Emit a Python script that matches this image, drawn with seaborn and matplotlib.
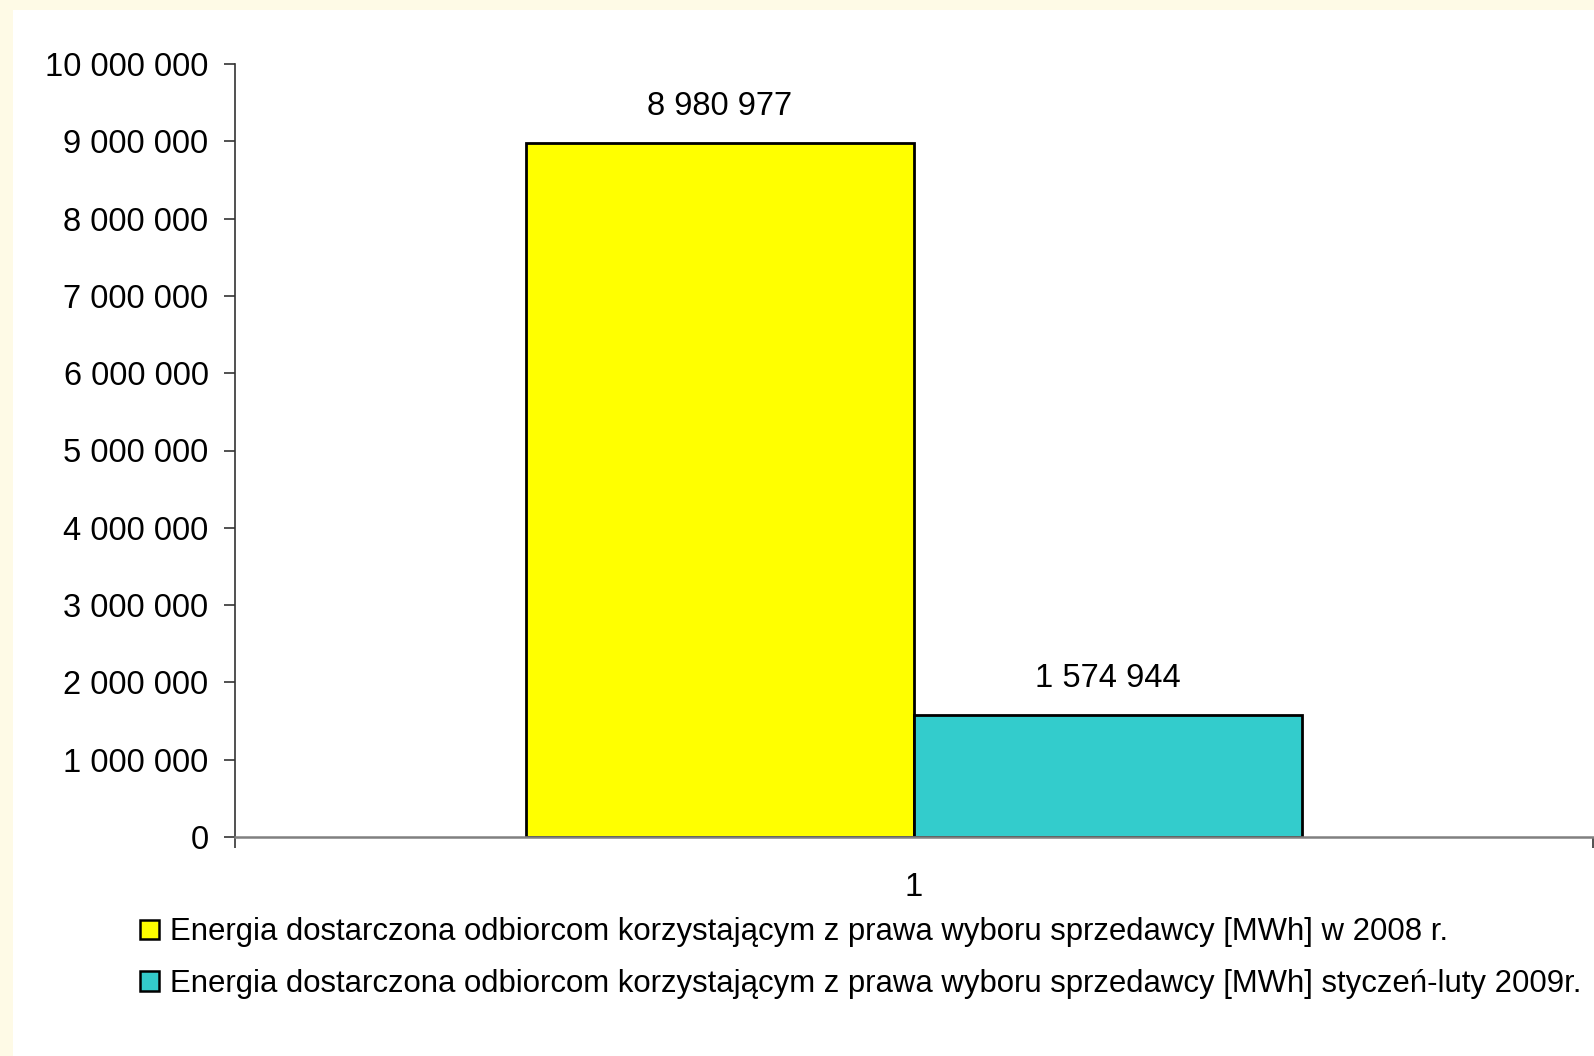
"""   Energia dostarczona odbiorcom TPA - wykres slupkowy   """

import matplotlib
matplotlib.use('Agg')
import matplotlib.pyplot as plt
from matplotlib.patches import Rectangle
from matplotlib.ticker import FuncFormatter
import pandas as pd
import seaborn as sns

# ~~~~~~~~~~   Data   ~~~~~~~~~~~~~~~~~~~~~~~~~~~~~~~~~~~~~~~~~~~~~~~~~~~~~~~~~~~~~~~ #
categories = ['1', '1']
series = ['Energia dostarczona odbiorcom korzystającym z prawa wyboru sprzedawcy [MWh] w 2008 r.',
          'Energia dostarczona odbiorcom korzystającym z prawa wyboru sprzedawcy [MWh] styczeń-luty 2009r.']
values = [8980977, 1574944]
colors = ['#FFFF00', '#33CCCC']

df = pd.DataFrame({'kategoria': categories, 'seria': series, 'wartosc': values})


def spaced(v):
    # thousands separated with spaces, polish style
    return f'{int(round(v)):,}'.replace(',', ' ')


# ~~~~~~~~~~   Plot   ~~~~~~~~~~~~~~~~~~~~~~~~~~~~~~~~~~~~~~~~~~~~~~~~~~~~~~~~~~~~~~~ #
sns.set_style('white')
plt.rcParams['font.family'] = ['Liberation Sans', 'DejaVu Sans']
plt.rcParams['text.color'] = 'black'
plt.rcParams['xtick.color'] = 'black'
plt.rcParams['ytick.color'] = 'black'

fig = plt.figure(figsize=(15.94, 10.56), dpi=100, facecolor='#FEFAE6')
# white panel inside the cream frame
fig.patches.append(Rectangle((13 / 1594, 0), 1, 1 - 10 / 1056, transform=fig.transFigure,
                             facecolor='white', edgecolor='none', zorder=-5))
ax = fig.add_axes([235 / 1594, 1 - 837 / 1056, 1358 / 1594, 773 / 1056])
ax.set_facecolor('white')

sns.barplot(data=df, x='kategoria', y='wartosc', hue='seria', palette=colors,
            width=0.572, gap=0, edgecolor='black', linewidth=2, saturation=1,
            legend=True, ax=ax)

ax.set_xlim(-0.5, 0.5)
ax.set_ylim(0, 10000000)
ax.set_yticks(range(0, 10000001, 1000000))
ax.yaxis.set_major_formatter(FuncFormatter(lambda v, p: spaced(v)))
ax.set_xlabel('')
ax.set_ylabel('')

# value labels above each bar
for cont in ax.containers:
    ax.bar_label(cont, labels=[spaced(v) for v in cont.datavalues], padding=15, fontsize=23.5,
                 color='black')

# axes and ticks like the spreadsheet original
for side in ['top', 'right']:
    ax.spines[side].set_visible(False)
ax.spines['left'].set_color('#333333')
ax.spines['bottom'].set_color('#808080')
ax.spines['left'].set_linewidth(1.2)
ax.spines['bottom'].set_linewidth(1.8)
ax.tick_params(axis='y', direction='out', length=8, width=1.2, color='#333333',
               labelsize=23.5, labelcolor='black', pad=11, left=True)
ax.tick_params(axis='x', which='major', length=0, labelsize=23.5, labelcolor='black', pad=25)
ax.set_xticks([-0.5, 0.5], minor=True)
ax.tick_params(axis='x', which='minor', direction='out', length=8, width=1.2,
               color='#333333', bottom=True)

# legend below the plot, no frame
handles, labels = ax.get_legend_handles_labels()
ax.legend_.remove()
leg = fig.legend(handles, labels, loc='upper left', bbox_to_anchor=(128 / 1594, 1 - 905 / 1056),
                 frameon=False, fontsize=22.4, handlelength=0.6, handleheight=0.6,
                 handletextpad=0.35, labelspacing=0.7, borderaxespad=0)
for h in leg.legend_handles:
    h.set_edgecolor('black')
    h.set_linewidth(1.8)
for t in leg.get_texts():
    t.set_color('black')

fig.savefig('out.png', dpi=100, facecolor=fig.get_facecolor())
